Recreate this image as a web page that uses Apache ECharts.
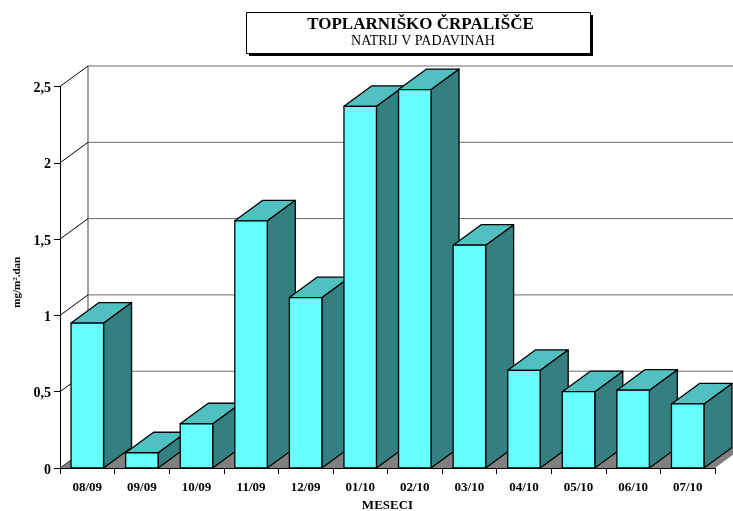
<!DOCTYPE html>
<html><head><meta charset="utf-8">
<style>html,body{margin:0;padding:0;background:#fff}#c{width:733px;height:511px}</style>
<script src="https://cdn.jsdelivr.net/npm/echarts@6/dist/echarts.min.js"></script>
</head><body><div id="c"></div>
<script>
const titleText = 'TOPLARNIŠKO ČRPALIŠČE';
const subtitleText = 'NATRIJ V PADAVINAH';
const categories = ['08/09','09/09','10/09','11/09','12/09','01/10','02/10','03/10','04/10','05/10','06/10','07/10'];
const values = [0.95,0.10,0.29,1.62,1.117,2.37,2.48,1.46,0.64,0.50,0.51,0.42];
const yTicks = [0,0.5,1,1.5,2,2.5];
const DX = 28, DY = -20.5;
const serif = '"Liberation Serif","Times New Roman",serif';
const chart = echarts.init(document.getElementById('c'), null, {renderer:'canvas'});
const wall = (p, api) => {
  const cs = p.coordSys, y = api.coord([0, api.value(0)])[1];
  const x0 = cs.x, x1 = cs.x + cs.width + DX;
  const kids = [];
  if (api.value(0) > 0) {
    kids.push({type:'line', shape:{x1:x0+DX,y1:y+DY,x2:x1,y2:y+DY}, style:{stroke:'#6a6a6a',lineWidth:1}});
  }
  kids.push({type:'line', shape:{x1:x0,y1:y,x2:x0+DX,y2:y+DY}, style:{stroke:api.value(0)>0?'#000':'#333',lineWidth:1}});
  if (api.value(0) === 0) {
    kids.unshift({type:'polygon', shape:{points:[[x0,y],[cs.x+cs.width,y],[x1,y+DY],[x0+DX,y+DY]]}, style:{fill:'#808080'}});
    kids.push({type:'line', shape:{x1:x0+DX,y1:y+DY,x2:x0+DX,y2:cs.y+DY}, style:{stroke:'#808080',lineWidth:1.5}});
  }
  return {type:'group', children:kids};
};
const bar = (p, api) => {
  const c = api.coord([api.value(0), api.value(1)]);
  const base = api.coord([api.value(0), 0])[1];
  const w = api.size([1,0])[0] * 0.595;
  const l = c[0]-w/2, r = c[0]+w/2, t = c[1];
  const edge = {stroke:'#000', lineWidth:1.3, lineJoin:'round'};
  return {type:'group', children:[
    {type:'polygon', shape:{points:[[r,t],[r+DX,t+DY],[r+DX,base+DY],[r,base]]}, style:{fill:'#348080',...edge}},
    {type:'polygon', shape:{points:[[l,t],[l+DX,t+DY],[r+DX,t+DY],[r,t]]}, style:{fill:'#50C0C0',...edge}},
    {type:'rect', shape:{x:l,y:t,width:w,height:base-t}, style:{fill:'#66FFFF',...edge}}
  ]};
};
chart.setOption({
  animation:false,
  backgroundColor:'#fff',
  grid:{left:60,right:18,top:86.5,bottom:43,containLabel:false,outerBoundsMode:'none'},
  xAxis:{type:'category',data:categories,
    name:'MESECI',nameLocation:'middle',nameGap:30,
    nameTextStyle:{fontFamily:serif,fontWeight:'bold',fontSize:13,color:'#000'},
    axisLine:{lineStyle:{color:'#000',width:1}},
    axisTick:{show:true,length:6,alignWithLabel:false,lineStyle:{color:'#000'}},
    axisLabel:{interval:0,margin:13,fontFamily:serif,fontWeight:'bold',fontSize:13,color:'#000'},
    splitLine:{show:false}},
  yAxis:{type:'value',min:0,max:2.5,interval:0.5,
    name:'{a|mg/m}{s|2}{a|.dan}',nameLocation:'middle',nameGap:36,
    nameTextStyle:{fontFamily:serif,fontWeight:'bold',fontSize:11,color:'#000',padding:[0,10,0,0],
      rich:{a:{fontFamily:serif,fontWeight:'bold',fontSize:11,color:'#000'},
            s:{fontFamily:serif,fontWeight:'bold',fontSize:7,color:'#000',verticalAlign:'top',lineHeight:11}}},
    axisLine:{show:true,lineStyle:{color:'#000',width:1}},
    axisTick:{show:true,length:6,lineStyle:{color:'#000'}},
    axisLabel:{margin:9,fontFamily:serif,fontWeight:'bold',fontSize:14,color:'#000',
      formatter:v=>'{n|'+String(v).replace('.',',')+'}',
      rich:{n:{fontFamily:serif,fontWeight:'bold',fontSize:14,color:'#000',padding:[4,0,0,0]}}},
    splitLine:{show:false}},
  series:[
    {type:'custom',coordinateSystem:'cartesian2d',data:yTicks.map(v=>[v]),encode:{y:0},renderItem:wall,silent:true,z:1},
    {type:'custom',coordinateSystem:'cartesian2d',data:categories.map((c,i)=>[i,values[i]]),encode:{x:0,y:1},renderItem:bar,silent:true,z:2}
  ],
  graphic:[
    {type:'rect',shape:{x:249,y:15,width:344,height:41},style:{fill:'#000'},z:10},
    {type:'rect',shape:{x:246.5,y:12.5,width:344,height:41},style:{fill:'#fff',stroke:'#000',lineWidth:1},z:11},
    {type:'text',x:420.5,y:24.5,style:{text:titleText,align:'center',verticalAlign:'middle',font:'bold 17px '+serif,fill:'#000'},z:12},
    {type:'text',x:423,y:41,style:{text:subtitleText,align:'center',verticalAlign:'middle',font:'14px '+serif,fill:'#000'},z:12}
  ]
});
</script></body></html>
